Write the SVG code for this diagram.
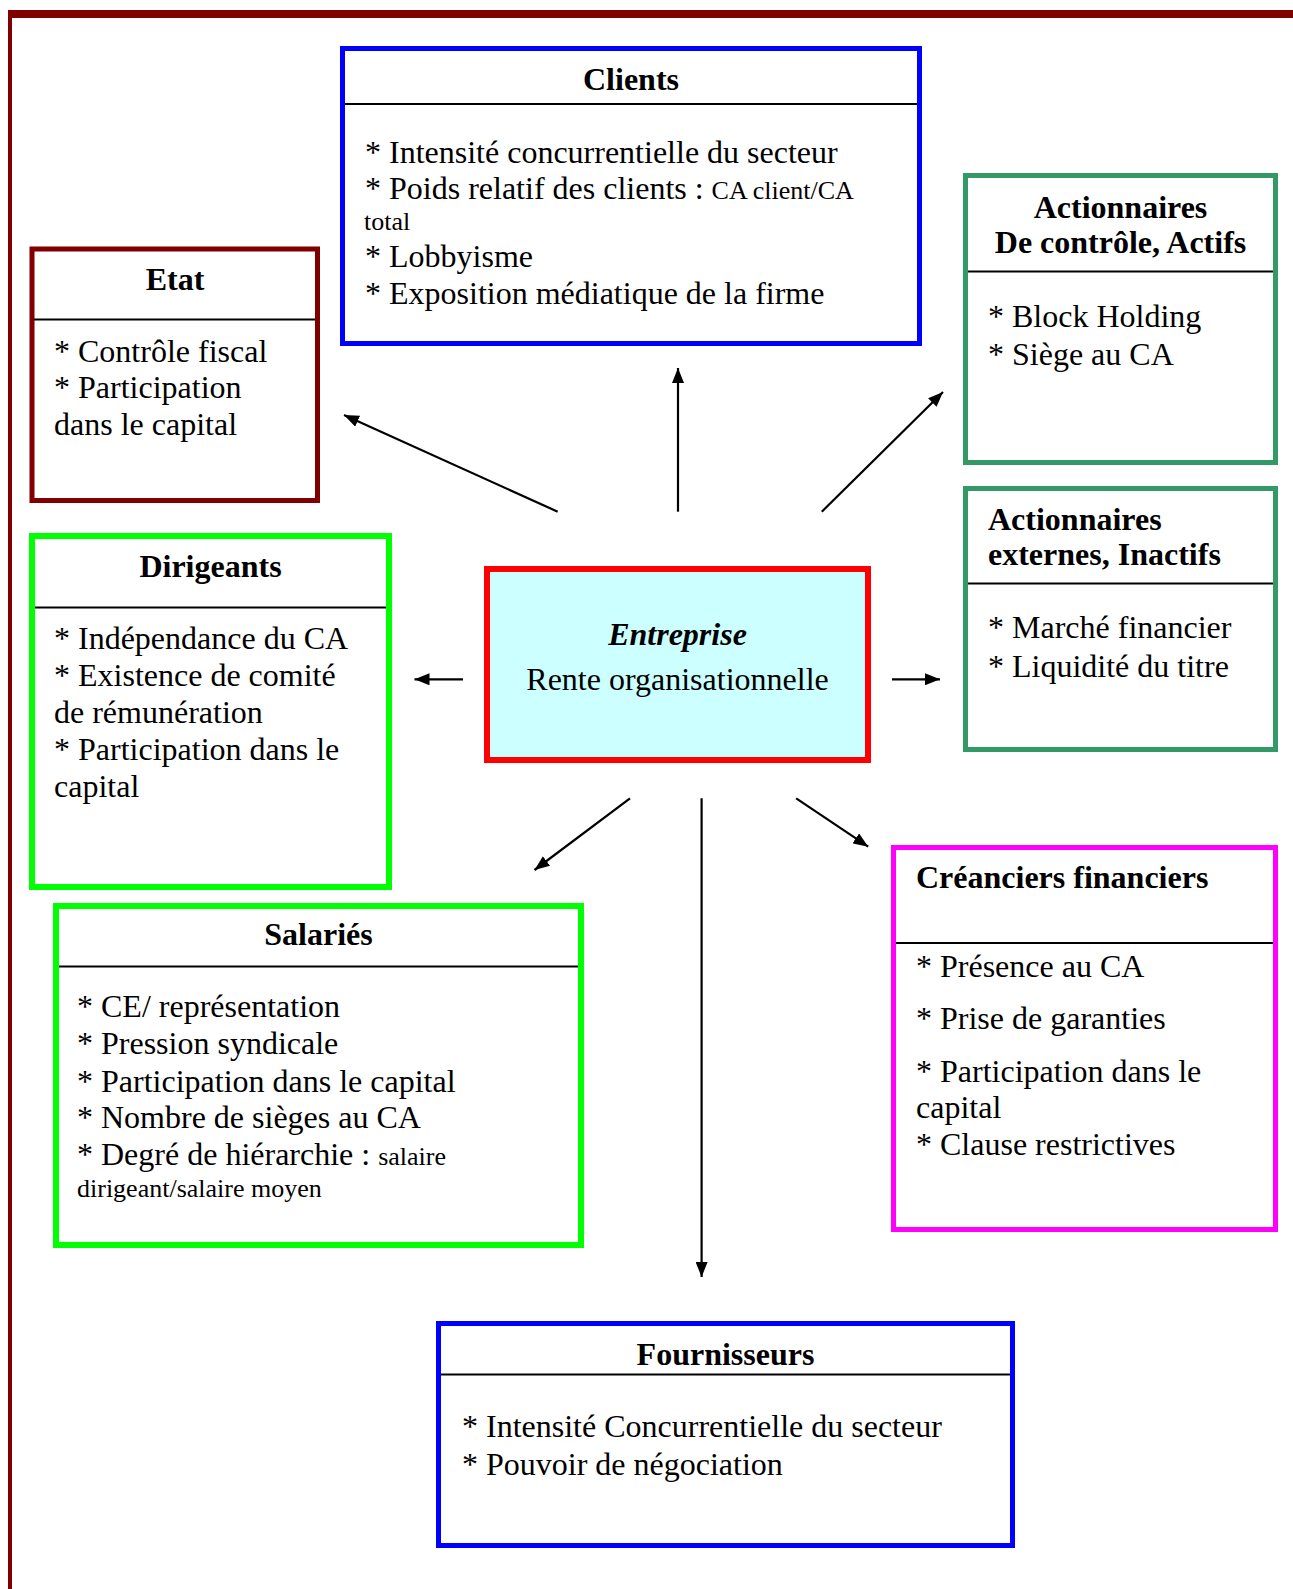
<svg xmlns="http://www.w3.org/2000/svg" width="1293" height="1589" viewBox="0 0 1293 1589">
<style>
text{font-family:"Liberation Serif","Times New Roman",serif;font-size:32px;fill:#000}
.t{font-weight:bold;text-anchor:middle}
.tl{font-weight:bold}
.s{font-size:26px}
.box{fill:#fff}
.hl{stroke:#000;stroke-width:2}
.con line{stroke:#000;stroke-width:2.2;marker-end:url(#ah)}
</style>
<defs>
<marker id="ah" markerUnits="userSpaceOnUse" markerWidth="16" markerHeight="12" refX="15" refY="6" orient="auto">
<path d="M0,0 L15,6 L0,12 z" fill="#000"/>
</marker>
</defs>
<rect width="1293" height="1589" fill="#fff"/>
<g id="frame">
<rect x="8" y="10" width="1285" height="8" fill="#800000"/>
<rect x="8" y="10" width="4" height="1579" fill="#800000"/>
</g>

<g id="clients">
<rect class="box" x="342.5" y="48.5" width="577" height="295" stroke="#0000FF" stroke-width="5"/>
<line class="hl" x1="345" y1="104" x2="917" y2="104"/>
<text class="t" x="631" y="90">Clients</text>
<text x="365" y="163">* Intensité concurrentielle du secteur</text>
<text x="365" y="199">* Poids relatif des clients : <tspan class="s">CA client/CA</tspan></text>
<text class="s" x="364" y="230">total</text>
<text x="365" y="267">* Lobbyisme</text>
<text x="365" y="304">* Exposition médiatique de la firme</text>
</g>

<g id="etat">
<rect class="box" x="32" y="249" width="285.5" height="251.5" stroke="#800000" stroke-width="5"/>
<line class="hl" x1="34" y1="319.5" x2="315" y2="319.5"/>
<text class="t" x="175" y="290">Etat</text>
<text x="54" y="362">* Contrôle fiscal</text>
<text x="54" y="398">* Participation</text>
<text x="54" y="435">dans le capital</text>
</g>

<g id="actionnaires-controle">
<rect class="box" x="965.5" y="175.5" width="310" height="287" stroke="#339966" stroke-width="5"/>
<line class="hl" x1="968" y1="271.5" x2="1273" y2="271.5"/>
<text class="t" x="1120.5" y="218">Actionnaires</text>
<text class="t" x="1120.5" y="253">De contrôle, Actifs</text>
<text x="988" y="327">* Block Holding</text>
<text x="988" y="365">* Siège au CA</text>
</g>

<g id="actionnaires-externes">
<rect class="box" x="965.5" y="488.5" width="310" height="261" stroke="#339966" stroke-width="5"/>
<line class="hl" x1="968" y1="583.5" x2="1273" y2="583.5"/>
<text class="tl" x="988" y="530">Actionnaires</text>
<text class="tl" x="988" y="565">externes, Inactifs</text>
<text x="988" y="638">* Marché financier</text>
<text x="988" y="677">* Liquidité du titre</text>
</g>

<g id="entreprise">
<rect x="487" y="569" width="381" height="191" fill="#CCFFFF" stroke="#FF0000" stroke-width="6"/>
<text x="677.5" y="645" text-anchor="middle" font-weight="bold" font-style="italic">Entreprise</text>
<text x="677.5" y="690" text-anchor="middle">Rente organisationnelle</text>
</g>

<g id="dirigeants">
<rect class="box" x="32" y="536" width="357" height="351" stroke="#00FF00" stroke-width="6"/>
<line class="hl" x1="35" y1="607.5" x2="386" y2="607.5"/>
<text class="t" x="210.5" y="577">Dirigeants</text>
<text x="54" y="649">* Indépendance du CA</text>
<text x="54" y="686">* Existence de comité</text>
<text x="54" y="723">de rémunération</text>
<text x="54" y="760">* Participation dans le</text>
<text x="54" y="797">capital</text>
</g>

<g id="salaries">
<rect class="box" x="56" y="906" width="525" height="339" stroke="#00FF00" stroke-width="6"/>
<line class="hl" x1="59" y1="966.5" x2="578" y2="966.5"/>
<text class="t" x="318.5" y="945">Salariés</text>
<text x="77" y="1017">* CE/ représentation</text>
<text x="77" y="1054">* Pression syndicale</text>
<text x="77" y="1092">* Participation dans le capital</text>
<text x="77" y="1128">* Nombre de sièges au CA</text>
<text x="77" y="1165">* Degré de hiérarchie : <tspan class="s">salaire</tspan></text>
<text class="s" x="77" y="1197">dirigeant/salaire moyen</text>
</g>

<g id="creanciers">
<rect class="box" x="893.5" y="847.5" width="382" height="382" stroke="#FF00FF" stroke-width="5"/>
<line class="hl" x1="896" y1="943" x2="1273" y2="943"/>
<text class="tl" x="916" y="888">Créanciers financiers</text>
<text x="916" y="977">* Présence au CA</text>
<text x="916" y="1029">* Prise de garanties</text>
<text x="916" y="1082">* Participation dans le</text>
<text x="916" y="1118">capital</text>
<text x="916" y="1155">* Clause restrictives</text>
</g>

<g id="fournisseurs">
<rect class="box" x="438.5" y="1323.5" width="574" height="222" stroke="#0000FF" stroke-width="5"/>
<line class="hl" x1="441" y1="1374.5" x2="1010" y2="1374.5"/>
<text class="t" x="725.5" y="1365">Fournisseurs</text>
<text x="462" y="1437">* Intensité Concurrentielle du secteur</text>
<text x="462" y="1475">* Pouvoir de négociation</text>
</g>

<g id="connectors" class="con">
<line x1="557.7" y1="511.7" x2="344" y2="415"/>
<line x1="678" y1="511.7" x2="678" y2="368"/>
<line x1="821.8" y1="511.7" x2="943" y2="392"/>
<line x1="463" y1="679.3" x2="414.5" y2="679.3"/>
<line x1="892" y1="679.3" x2="940" y2="679.3"/>
<line x1="630" y1="798.3" x2="534.5" y2="870"/>
<line x1="701.6" y1="798.3" x2="701.6" y2="1277"/>
<line x1="796.2" y1="798.3" x2="868.2" y2="846.7"/>
</g>
</svg>
